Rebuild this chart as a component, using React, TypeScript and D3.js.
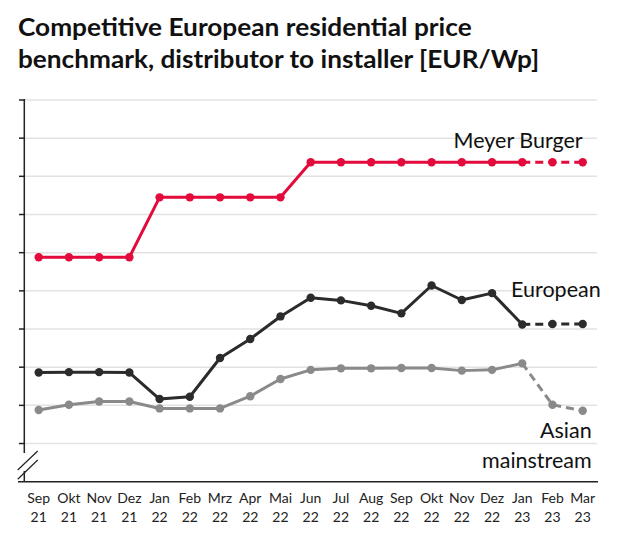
import React from "react";
import * as d3 from "d3";

const months = ["Sep 21","Okt 21","Nov 21","Dez 21","Jan 22","Feb 22","Mrz 22","Apr 22","Mai 22","Jun 22","Jul 22","Aug 22","Sep 22","Okt 22","Nov 22","Dez 22","Jan 23","Feb 23","Mar 23"];
const meyerBurger = [4.88,4.88,4.88,4.88,6.45,6.45,6.45,6.45,6.45,7.37,7.37,7.37,7.37,7.37,7.37,7.37,7.37,7.37,7.37];
const european = [1.86,1.87,1.87,1.86,1.165,1.226,2.24,2.74,3.33,3.82,3.75,3.61,3.41,4.14,3.76,3.94,3.12,3.13,3.13];
const asian = [0.877,1.016,1.10,1.10,0.92,0.92,0.92,1.24,1.69,1.93,1.97,1.97,1.98,1.98,1.91,1.93,2.10,1.016,0.86];
const gridTicks = [0,1,2,3,4,5,6,7,8,9];
const forecastStart = 16;

const W = 640, H = 539;
const x = d3.scalePoint<string>().domain(months).range([38.7, 582.7]);
const y = d3.scaleLinear().domain([-1, 9]).range([481.7, 100]);

const series = [
  { name: "Meyer Burger", values: meyerBurger, color: "#e30a3c" },
  { name: "European", values: european, color: "#2b2b2b" },
  { name: "Asian", values: asian, color: "#8a8a8a" },
];

const font = "Lato, 'Noto Sans', sans-serif";

export default function App() {
  const line = d3.line<[number, number]>().x(d => d[0]).y(d => d[1]);
  return (
    <svg width={W} height={H} style={{ position: "absolute", left: 0, top: 0, background: "#fff" }} fontFamily={font}>
      <text x={18} y={36} fontSize={25} fontWeight={700} fill="#111" textLength={453.7} lengthAdjust="spacingAndGlyphs">Competitive European residential price</text>
      <text x={18} y={67.5} fontSize={25} fontWeight={700} fill="#111" textLength={521.3} lengthAdjust="spacingAndGlyphs">benchmark, distributor to installer [EUR/Wp]</text>
      {gridTicks.map(t => (
        <g key={t}>
          <line x1={24.3} x2={597} y1={y(t)} y2={y(t)} stroke="#e2e2e2" strokeWidth={1.5} />
          <line x1={19} x2={24.3} y1={y(t)} y2={y(t)} stroke="#222" strokeWidth={1.5} />
        </g>
      ))}
      <line x1={24.3} x2={24.3} y1={99} y2={453} stroke="#222" strokeWidth={1.5} />
      <line x1={24.3} x2={24.3} y1={471} y2={481.7} stroke="#222" strokeWidth={1.5} />
      <line x1={17.7} y1={470} x2={37.7} y2={451} stroke="#222" strokeWidth={1.2} />
      <line x1={17.7} y1={479.3} x2={37.7} y2={460} stroke="#222" strokeWidth={1.2} />
      <line x1={18} x2={598} y1={481.7} y2={481.7} stroke="#222" strokeWidth={1.5} />
      {months.map(m => {
        const [mo, yr] = m.split(" ");
        return (
          <text key={m} x={x(m)} textAnchor="middle" fontSize={14} fill="#222">
            <tspan x={x(m)} y={503.3}>{mo}</tspan>
            <tspan x={x(m)} y={521.7}>{yr}</tspan>
          </text>
        );
      })}
      {series.map(s => {
        const pts: [number, number][] = s.values.map((v, i) => [x(months[i])!, y(v)]);
        return (
          <g key={s.name}>
            <path d={line(pts.slice(0, forecastStart + 1))!} fill="none" stroke={s.color} strokeWidth={3} strokeLinejoin="round" />
            <path d={line(pts.slice(forecastStart))!} fill="none" stroke={s.color} strokeWidth={3} strokeDasharray="8,5" />
            {pts.map((p, i) => (
              <circle key={i} cx={p[0]} cy={p[1]} r={4.2} fill={s.color} />
            ))}
          </g>
        );
      })}
      <text x={582.7} y={148.3} textAnchor="end" fontSize={21.5} fill="#111">Meyer Burger</text>
      <text x={600.7} y={296.7} textAnchor="end" fontSize={21.5} fill="#111">European</text>
      <text x={591.7} y={438.3} textAnchor="end" fontSize={21.5} fill="#111">Asian</text>
      <text x={591.7} y={468.3} textAnchor="end" fontSize={21.5} fill="#111">mainstream</text>
    </svg>
  );
}
